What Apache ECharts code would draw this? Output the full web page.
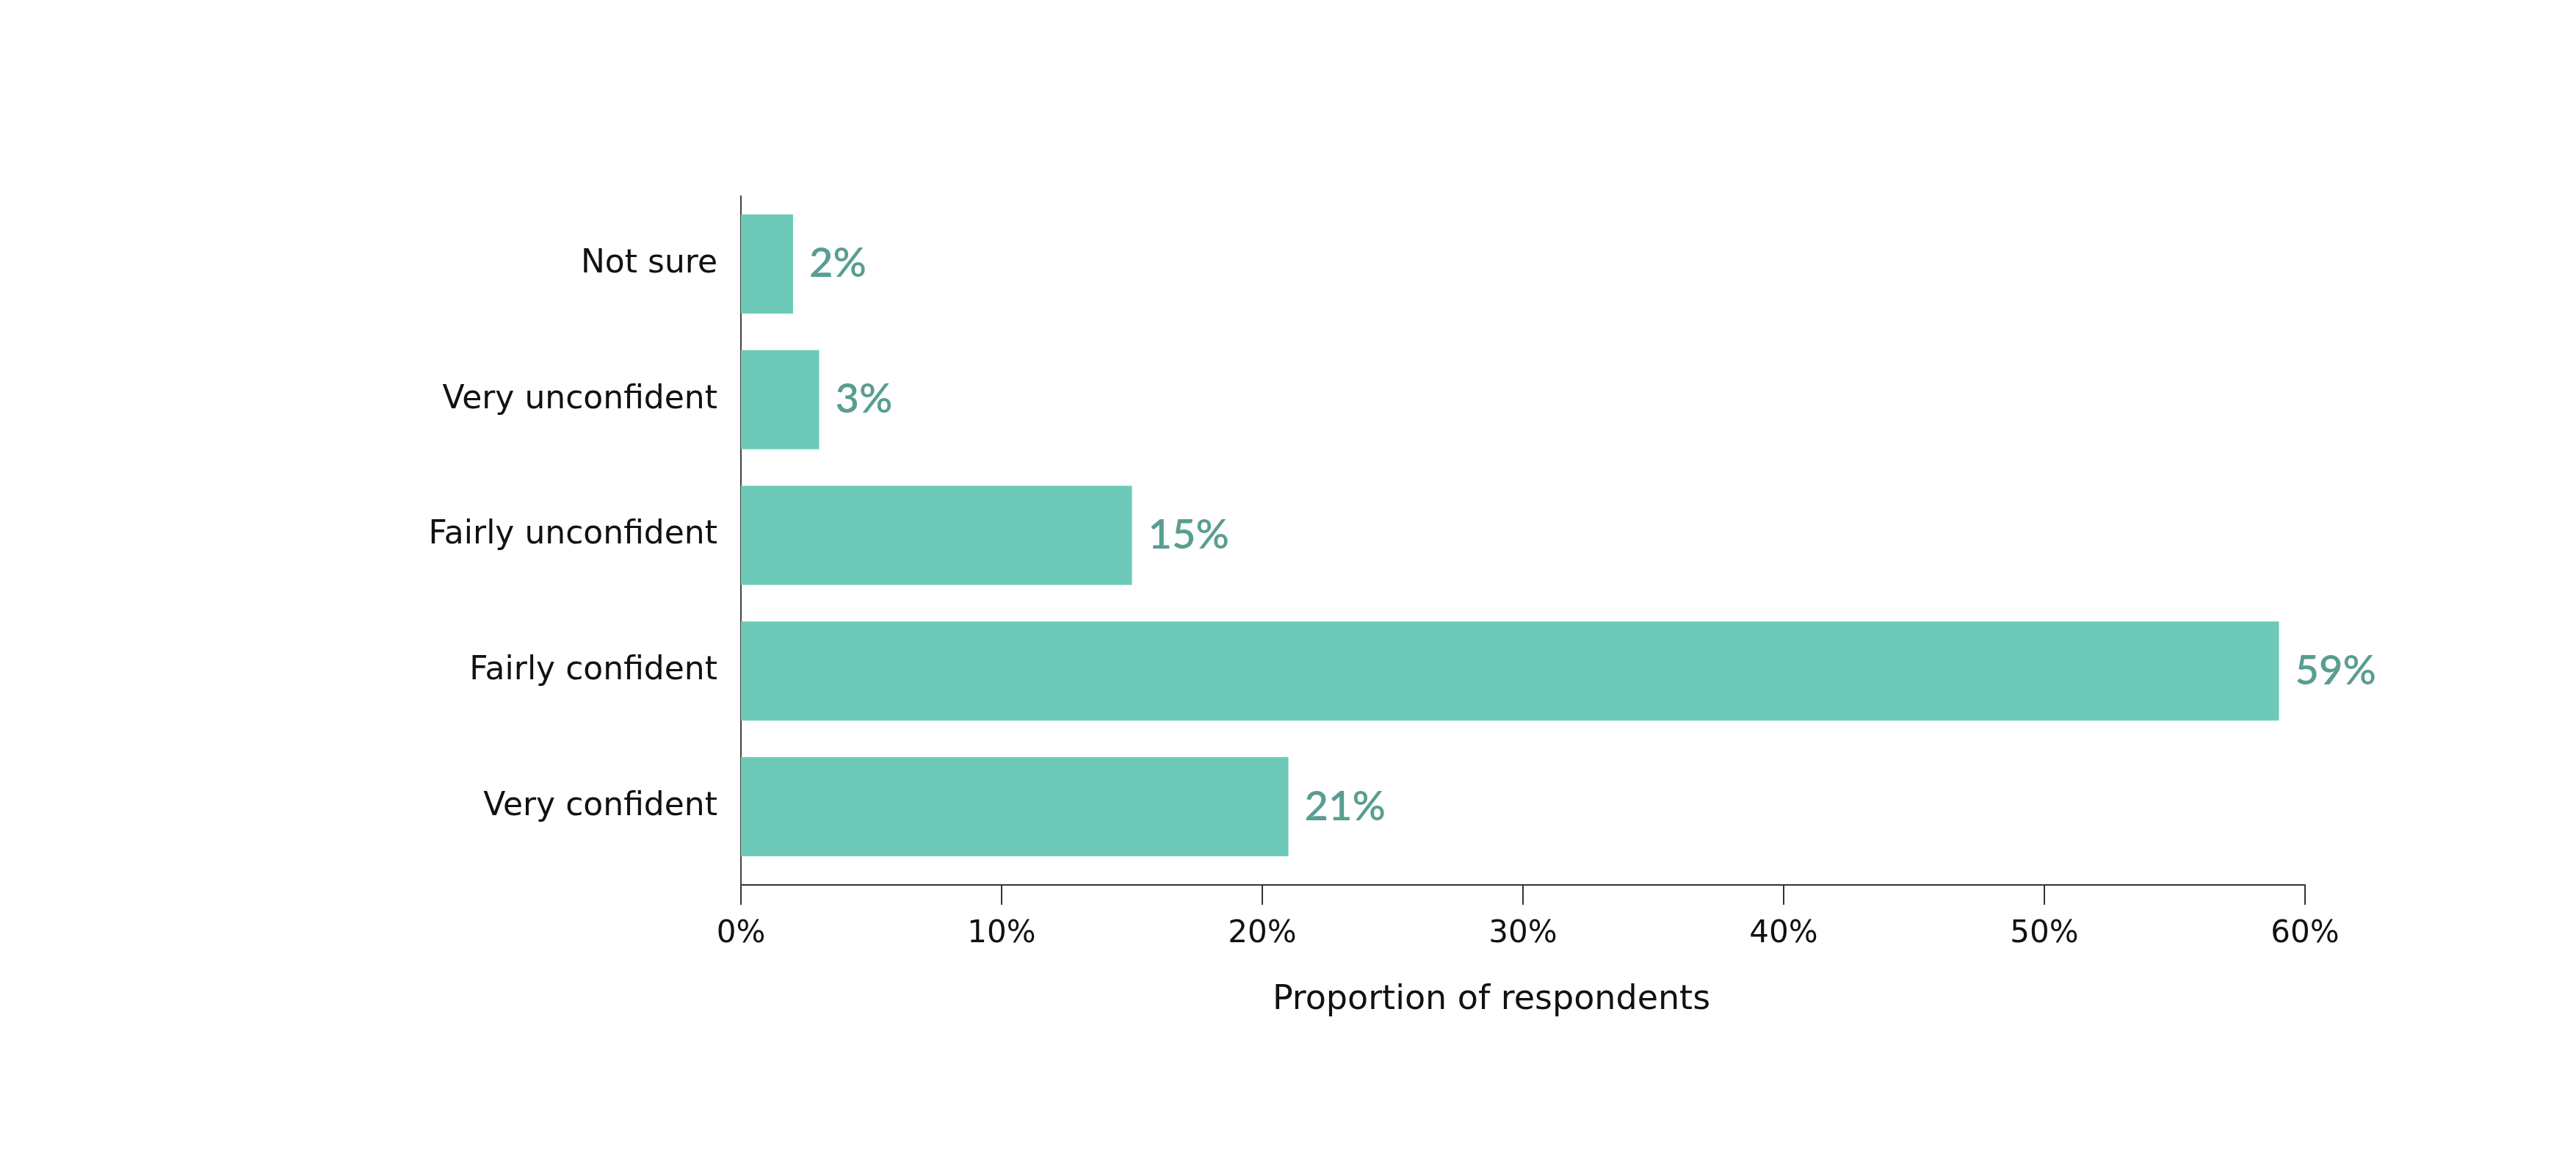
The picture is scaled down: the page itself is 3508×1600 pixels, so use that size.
<!DOCTYPE html>
<html>
<head>
<meta charset="utf-8">
<script src="https://cdn.jsdelivr.net/npm/echarts@6/dist/echarts.min.js"></script>
<style>
  html, body { margin: 0; padding: 0; background: #fff; }
  #root1 { width: 3508px; height: 1600px; }
</style>
</head>
<body>
<div id="root1"></div>
<script>
const categories = ['Very confident', 'Fairly confident', 'Fairly unconfident', 'Very unconfident', 'Not sure'];
const shares = [21, 59, 15, 3, 2];
const tickValues = [0, 10, 20, 30, 40, 50, 60];

const chartDom = document.getElementById('root1');
const myChart = echarts.init(chartDom);

const axisFont = 'DejaVu Sans';
const labelFont = 'Lato';

const option = {
  backgroundColor: '#fff',
  animation: false,
  grid: {
    left: 1009,
    top: 267,
    width: 2130,
    height: 924
  },
  xAxis: {
    type: 'value',
    min: tickValues[0],
    max: tickValues[tickValues.length - 1],
    interval: 10,
    offset: 14,
    name: 'Proportion of respondents',
    nameLocation: 'middle',
    nameGap: 134,
    nameTextStyle: {
      fontFamily: axisFont,
      fontSize: 46,
      color: '#111',
      padding: [0, 86, 0, 0]
    },
    axisLine: { show: true, lineStyle: { color: '#333', width: 2 } },
    axisTick: { show: true, length: 27, lineStyle: { color: '#333', width: 2 } },
    axisLabel: {
      margin: 46,
      fontFamily: axisFont,
      fontSize: 42,
      color: '#111',
      formatter: v => v + '%'
    },
    splitLine: { show: false }
  },
  yAxis: {
    type: 'category',
    data: categories,
    axisLine: {
      show: true,
      // short segment so the line reaches down to the offset x axis
      symbol: ['rect', 'none'],
      symbolSize: [2, 30],
      lineStyle: { color: '#444', width: 2 }
    },
    axisTick: { show: false },
    axisLabel: {
      margin: 32,
      fontFamily: axisFont,
      fontSize: 44,
      color: '#111'
    }
  },
  series: [
    {
      type: 'bar',
      data: shares,
      barWidth: 135,
      itemStyle: { color: '#6dcab9' },
      label: {
        show: true,
        position: 'right',
        distance: 22,
        fontFamily: labelFont,
        fontSize: 56,
        fontWeight: 600,
        color: '#5a9d91',
        formatter: p => p.value + '%'
      }
    }
  ]
};

myChart.setOption(option);
</script>
</body>
</html>
